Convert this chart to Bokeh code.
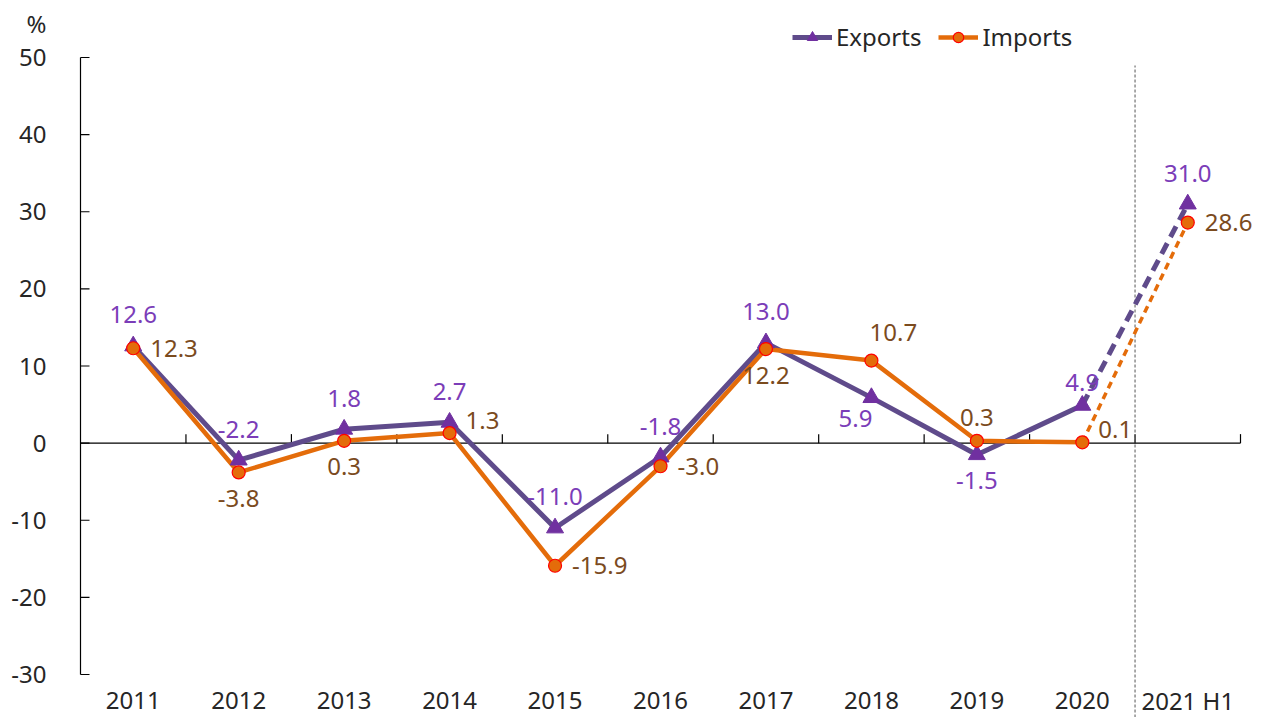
from bokeh.plotting import figure
from bokeh.models import Range1d, Legend, LegendItem, ColumnDataSource
from bokeh.core.properties import value
from bokeh.embed import file_html
from bokeh.resources import INLINE

# ---- data ----
categories = ["2011", "2012", "2013", "2014", "2015", "2016", "2017", "2018", "2019", "2020", "2021 H1"]
exports = [12.6, -2.2, 1.8, 2.7, -11.0, -1.8, 13.0, 5.9, -1.5, 4.9, 31.0]
imports = [12.3, -3.8, 0.3, 1.3, -15.9, -3.0, 12.2, 10.7, 0.3, 0.1, 28.6]
y_ticks = [-30, -20, -10, 0, 10, 20, 30, 40, 50]
y_unit = "%"

# label placements (style, not data)
exp_place = ["above", "above", "above", "above", "above", "above", "above",
             "below_left", "below", "above_close", "above"]
imp_place = ["right", "below", "below", "right_up", "right", "right", "below",
             "above_right", "above_close", "right_up", "right"]
PLACE = {
    "above": (0, -31, "center"),
    "above_close": (0, -23, "center"),
    "below": (0, 26, "center"),
    "below_left": (-16, 21, "center"),
    "right": (17, 0, "left"),
    "right_up": (16, -13, "left"),
    "above_right": (22, -28, "center"),
}

FONT = "Noto Sans"
FS = "24px"
EXP_LINE = "#5F4B8B"
EXP_MARK = "#7030A0"
EXP_TEXT = "#7B3DB8"
IMP_LINE = "#E46C0A"
IMP_TEXT = "#7B4B1E"
AXIS_TEXT = "#262626"

W, H = 1266, 717
LEFT, RIGHT = 80, 26            # pixel margins of the plotting area
TOP, BOTTOM = 57, 674           # pixel rows of y = 50 and y = -30
n = len(categories)
ppx = (W - LEFT - RIGHT) / n    # pixels per category
ppu = (BOTTOM - TOP) / (y_ticks[-1] - y_ticks[0])

x_pos = [i + 0.5 for i in range(n)]          # category centres on the scale
bounds_x = [i for i in range(1, n + 1)]      # category boundaries

y_top = y_ticks[-1] + TOP / ppu
y_bot = y_ticks[0] - (H - BOTTOM) / ppu

p = figure(width=W, height=H, x_range=Range1d(-LEFT / ppx, n + RIGHT / ppx),
           y_range=Range1d(y_bot, y_top), x_axis_location=None, y_axis_location=None,
           output_backend="svg", toolbar_location=None,
           min_border=0)
p.outline_line_color = None
p.grid.grid_line_color = None
p.background_fill_color = "white"

# ---- y axis (drawn on the scale) ----
p.segment(x0=[0], x1=[0], y0=[y_ticks[0]], y1=[y_ticks[-1]], line_color="black", line_width=1.2)
p.segment(x0=[0] * len(y_ticks), x1=[9 / ppx] * len(y_ticks), y0=y_ticks, y1=y_ticks,
          line_color="black", line_width=1.2)
p.text(x=[0] * len(y_ticks), y=y_ticks, text=[str(t) for t in y_ticks], x_offset=-34,
       text_align="right", text_baseline="middle", text_color=AXIS_TEXT,
       text_font=value(FONT), text_font_size=FS)
p.text(x=[0], y=[y_ticks[-1]], text=[y_unit], x_offset=-44, y_offset=-34,
       text_align="center", text_baseline="middle", text_color=AXIS_TEXT,
       text_font=value(FONT), text_font_size=FS)

# ---- x axis on zero line with boundary ticks ----
p.segment(x0=[0], x1=[n], y0=[0], y1=[0], line_color="black", line_width=1.2)
p.segment(x0=bounds_x, x1=bounds_x, y0=[0] * n, y1=[9 / ppu] * n, line_color="black", line_width=1.2)

# vertical separator before last category
p.segment(x0=[n - 1], x1=[n - 1], y0=[y_bot], y1=[y_ticks[-1] - 8 / ppu],
          line_color="#555555", line_width=1, line_dash="3 2")

# category labels
p.text(x=x_pos, y=[y_ticks[0] - 26 / ppu] * n, text=categories, text_align="center",
       text_baseline="middle", text_color=AXIS_TEXT, text_font=value(FONT), text_font_size=FS)

# ---- series ----
exp_line = p.line(x_pos[:n - 1], exports[:n - 1], line_color=EXP_LINE, line_width=5)
p.line(x_pos[n - 2:], exports[n - 2:], line_color=EXP_LINE, line_width=5, line_dash="12 7")
imp_line = p.line(x_pos[:n - 1], imports[:n - 1], line_color=IMP_LINE, line_width=4.5)
p.line(x_pos[n - 2:], imports[n - 2:], line_color=IMP_LINE, line_width=3.5, line_dash="7 5")

exp_marks = p.scatter(x_pos, exports, marker="triangle", size=17,
                      fill_color=EXP_MARK, line_color=EXP_MARK, line_width=1)
imp_marks = p.scatter(x_pos, imports, marker="circle", size=13,
                      fill_color=IMP_LINE, line_color="#FF0000", line_width=1.2)

# data labels
def labels(vals, places, color):
    src = ColumnDataSource(dict(
        x=x_pos, y=vals, t=["%.1f" % v for v in vals],
        dx=[PLACE[k][0] for k in places], dy=[PLACE[k][1] for k in places],
        al=[PLACE[k][2] for k in places]))
    p.text(x="x", y="y", text="t", source=src, x_offset="dx", y_offset="dy",
           text_align="al", text_baseline="middle", text_color=color,
           text_font=value(FONT), text_font_size=FS)

labels(exports, exp_place, EXP_TEXT)
labels(imports, imp_place, IMP_TEXT)

legend = Legend(items=[LegendItem(label="Exports", renderers=[exp_line, exp_marks]),
                       LegendItem(label="Imports", renderers=[imp_line, imp_marks])],
                orientation="horizontal", location=(792, H - 53),
                border_line_color=None, background_fill_alpha=0,
                padding=0, margin=0, spacing=17, glyph_width=40, glyph_height=26,
                label_height=26, label_standoff=4,
                label_text_font=FONT, label_text_font_size=FS, label_text_color=AXIS_TEXT)
p.add_layout(legend)

open("out.html", "w").write(file_html(p, INLINE))
